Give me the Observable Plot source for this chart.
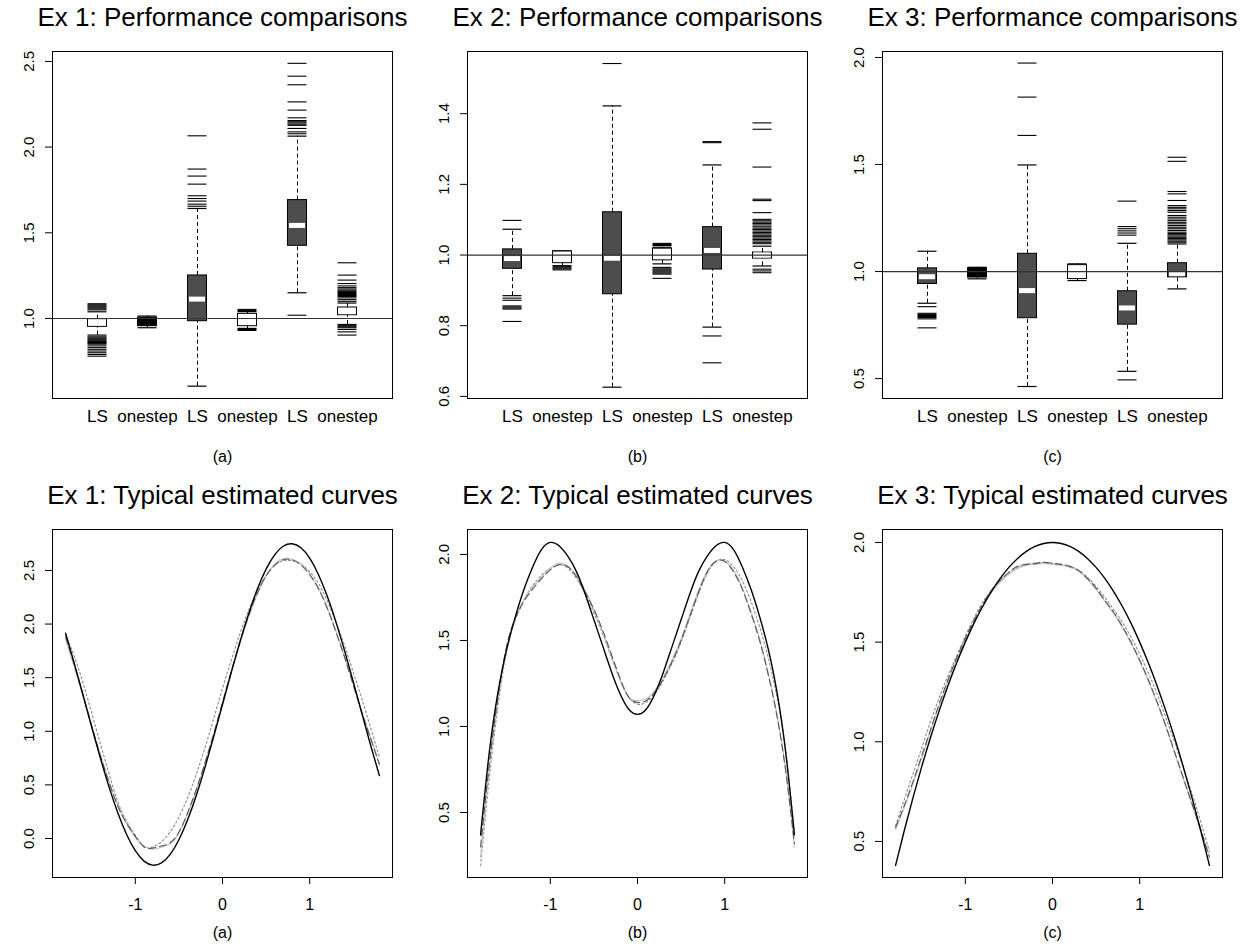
<!DOCTYPE html>
<html><head><meta charset="utf-8">
<script src="https://cdn.jsdelivr.net/npm/d3@7"></script>
<script src="https://cdn.jsdelivr.net/npm/@observablehq/plot@0.6"></script>
<style>
body{margin:0;background:#fff;}
#root{position:relative;width:1248px;height:950px;overflow:hidden;background:#fff;}
#root > div{position:absolute;}
</style></head><body><div id="root"></div>
<script>
// ---------- data ----------
const methodLabels = ["LS", "onestep", "LS", "onestep", "LS", "onestep"];
const panelTags = ["(a)", "(b)", "(c)"];
const boxTitles = ["Ex 1: Performance comparisons", "Ex 2: Performance comparisons", "Ex 3: Performance comparisons"];
const curveTitles = ["Ex 1: Typical estimated curves", "Ex 2: Typical estimated curves", "Ex 3: Typical estimated curves"];

// box stats: [lower whisker, Q1, median, Q3, upper whisker]
const ex1Stats = [
  [0.903, 0.951, 0.975, 0.996, 1.039],
  [0.946, 0.955, 0.980, 1.005, 1.014],
  [0.605, 0.984, 1.113, 1.251, 1.642],
  [0.942, 0.955, 0.990, 1.027, 1.040],
  [1.150, 1.424, 1.543, 1.691, 2.064],
  [0.965, 1.019, 1.040, 1.064, 1.090]
];
const ex1Outliers = [
  [1.05, 1.056, 1.062, 1.068, 1.074, 1.08, 1.086, 0.893, 0.887, 0.881, 0.876, 0.87, 0.865, 0.86, 0.855, 0.85, 0.84, 0.83, 0.82, 0.81, 0.80, 0.79, 0.78],
  [],
  [2.066, 1.872, 1.831, 1.784, 1.716, 1.70, 1.685, 1.667, 1.655],
  [1.053, 1.047, 0.936, 0.93],
  [2.489, 2.414, 2.364, 2.264, 2.216, 2.171, 2.155, 2.148, 2.141, 2.134, 2.127, 2.109, 2.089, 2.078, 1.019],
  [1.325, 1.253, 1.224, 1.204, 1.19, 1.18, 1.172, 1.165, 1.158, 1.152, 1.146, 1.14, 1.134, 1.128, 1.12, 1.11, 1.10, 0.958, 0.952, 0.946, 0.936, 0.922, 0.903]
];
const ex2Stats = [
  [0.885, 0.961, 0.990, 1.016, 1.073],
  [0.970, 0.977, 0.990, 1.010, 1.012],
  [0.626, 0.889, 0.991, 1.121, 1.422],
  [0.975, 0.985, 1.000, 1.018, 1.022],
  [0.796, 0.959, 1.013, 1.079, 1.255],
  [0.969, 0.990, 1.000, 1.007, 1.025]
];
const ex2Outliers = [
  [1.098, 0.878, 0.872, 0.856, 0.853, 0.85, 0.847, 0.812],
  [0.967, 0.964, 0.961, 0.958],
  [1.542],
  [1.033, 1.03, 1.027, 0.965, 0.961, 0.958, 0.955, 0.952, 0.949, 0.946, 0.934],
  [1.321, 1.318, 0.771, 0.695],
  [1.374, 1.356, 1.249, 1.158, 1.154, 1.12, 1.101, 1.097, 1.093, 1.089, 1.085, 1.08, 1.076, 1.072, 1.068, 1.064, 1.06, 1.056, 1.052, 1.048, 1.044, 1.04, 1.036, 1.032, 0.96, 0.955, 0.95]
];
const ex3Stats = [
  [0.852, 0.942, 0.976, 1.015, 1.095],
  [0.966, 0.972, 0.990, 1.015, 1.020],
  [0.463, 0.782, 0.911, 1.083, 1.498],
  [0.958, 0.965, 0.995, 1.030, 1.036],
  [0.534, 0.752, 0.830, 0.908, 1.132],
  [0.919, 0.973, 0.990, 1.039, 1.129]
];
const ex3Outliers = [
  [0.836, 0.805, 0.80, 0.795, 0.79, 0.785, 0.779, 0.737],
  [],
  [1.974, 1.815, 1.636],
  [],
  [1.329, 1.21, 1.20, 1.19, 1.18, 1.17, 0.494],
  [1.534, 1.515, 1.374, 1.363, 1.332, 1.308, 1.30, 1.293, 1.285, 1.277, 1.262, 1.254, 1.246, 1.238, 1.23, 1.223, 1.215, 1.207, 1.20, 1.192, 1.184, 1.178, 1.172, 1.166, 1.16, 1.154, 1.148, 1.142, 1.137]
];
const ex1YTicks = [1.0, 1.5, 2.0, 2.5];
const ex2YTicks = [0.6, 0.8, 1.0, 1.2, 1.4];
const ex3YTicks = [0.5, 1.0, 1.5, 2.0];

// curves
const curveX = [-1.8, -1.7, -1.6, -1.5, -1.4, -1.3, -1.2, -1.1, -1.0, -0.9, -0.8, -0.7, -0.6, -0.5, -0.4, -0.3, -0.2, -0.1, 0,
  0.1, 0.2, 0.3, 0.4, 0.5, 0.6, 0.7, 0.8, 0.9, 1.0, 1.1, 1.2, 1.3, 1.4, 1.5, 1.6, 1.7, 1.8];
const curveXTicks = [-1, 0, 1];

const ex1True = [1.914, 1.633, 1.338, 1.038, 0.748, 0.477, 0.237, 0.037, -0.114, -0.211, -0.249, -0.228, -0.148, -0.012, 0.174, 0.403, 0.666, 0.952, 1.25,
  1.548, 1.834, 2.097, 2.326, 2.512, 2.648, 2.728, 2.749, 2.711, 2.614, 2.463, 2.263, 2.023, 1.752, 1.462, 1.162, 0.867, 0.586];
const ex1EstA = [1.88, 1.62, 1.34, 1.05, 0.77, 0.52, 0.30, 0.14, 0.02, -0.08, -0.09, -0.07, -0.04, 0.06, 0.24, 0.46, 0.71, 0.98, 1.27,
  1.56, 1.83, 2.08, 2.29, 2.45, 2.55, 2.60, 2.60, 2.55, 2.46, 2.33, 2.15, 1.93, 1.69, 1.43, 1.17, 0.93, 0.69];
const ex1EstB = [1.86, 1.60, 1.33, 1.05, 0.78, 0.53, 0.31, 0.14, 0.01, -0.07, -0.10, -0.08, -0.05, 0.05, 0.23, 0.45, 0.70, 0.97, 1.26,
  1.55, 1.82, 2.07, 2.28, 2.45, 2.56, 2.61, 2.60, 2.56, 2.47, 2.34, 2.16, 1.94, 1.70, 1.44, 1.18, 0.94, 0.70];
const ex1EstC = [1.90, 1.70, 1.45, 1.17, 0.88, 0.60, 0.34, 0.16, 0.03, -0.07, -0.08, -0.03, 0.06, 0.20, 0.38, 0.60, 0.85, 1.12, 1.40,
  1.66, 1.91, 2.13, 2.31, 2.45, 2.55, 2.59, 2.59, 2.56, 2.49, 2.38, 2.22, 2.02, 1.80, 1.55, 1.30, 1.03, 0.76];

const ex2True = [0.37, 0.85, 1.20, 1.45, 1.64, 1.80, 1.93, 2.03, 2.07, 2.05, 1.99, 1.90, 1.77, 1.62, 1.47, 1.32, 1.19, 1.10, 1.07,
  1.10, 1.19, 1.32, 1.47, 1.62, 1.77, 1.90, 1.99, 2.05, 2.07, 2.03, 1.93, 1.80, 1.64, 1.45, 1.20, 0.85, 0.37];
const ex2EstA = [0.30, 0.78, 1.17, 1.47, 1.63, 1.73, 1.80, 1.86, 1.91, 1.94, 1.93, 1.87, 1.78, 1.68, 1.56, 1.42, 1.28, 1.17, 1.14,
  1.15, 1.20, 1.28, 1.38, 1.50, 1.64, 1.78, 1.90, 1.96, 1.96, 1.90, 1.80, 1.66, 1.50, 1.30, 1.06, 0.74, 0.32];
const ex2EstB = [0.24, 0.76, 1.16, 1.46, 1.63, 1.74, 1.81, 1.87, 1.92, 1.95, 1.93, 1.88, 1.79, 1.68, 1.55, 1.41, 1.27, 1.17, 1.15,
  1.16, 1.21, 1.29, 1.39, 1.51, 1.65, 1.79, 1.90, 1.96, 1.96, 1.91, 1.81, 1.67, 1.51, 1.31, 1.07, 0.75, 0.30];
const ex2EstC = [0.19, 0.70, 1.12, 1.44, 1.62, 1.74, 1.82, 1.88, 1.92, 1.94, 1.92, 1.86, 1.77, 1.66, 1.54, 1.40, 1.27, 1.17, 1.13,
  1.14, 1.19, 1.27, 1.37, 1.49, 1.63, 1.77, 1.89, 1.96, 1.97, 1.93, 1.85, 1.73, 1.58, 1.40, 1.17, 0.86, 0.38];

const ex3True = [0.38, 0.555, 0.72, 0.875, 1.02, 1.155, 1.28, 1.395, 1.5, 1.595, 1.68, 1.755, 1.82, 1.875, 1.92, 1.955, 1.98, 1.995, 2.0,
  1.995, 1.98, 1.955, 1.92, 1.875, 1.82, 1.755, 1.68, 1.595, 1.5, 1.395, 1.28, 1.155, 1.02, 0.875, 0.72, 0.555, 0.38];
const ex3EstA = [0.57, 0.68, 0.80, 0.93, 1.06, 1.19, 1.31, 1.42, 1.52, 1.61, 1.69, 1.76, 1.81, 1.85, 1.88, 1.89, 1.895, 1.90, 1.895,
  1.89, 1.88, 1.86, 1.82, 1.77, 1.71, 1.65, 1.58, 1.50, 1.41, 1.31, 1.20, 1.08, 0.95, 0.82, 0.69, 0.56, 0.42];
const ex3EstB = [0.56, 0.67, 0.79, 0.92, 1.05, 1.18, 1.30, 1.41, 1.51, 1.60, 1.68, 1.75, 1.80, 1.84, 1.87, 1.885, 1.89, 1.895, 1.89,
  1.885, 1.875, 1.855, 1.815, 1.765, 1.705, 1.645, 1.575, 1.495, 1.405, 1.305, 1.195, 1.075, 0.945, 0.815, 0.685, 0.555, 0.43];
const ex3EstC = [0.58, 0.71, 0.84, 0.97, 1.10, 1.22, 1.33, 1.43, 1.53, 1.62, 1.70, 1.76, 1.81, 1.85, 1.875, 1.89, 1.895, 1.90, 1.895,
  1.89, 1.88, 1.86, 1.825, 1.78, 1.725, 1.665, 1.60, 1.525, 1.44, 1.345, 1.24, 1.12, 1.00, 0.87, 0.74, 0.60, 0.45];
const ex1CurveYTicks = [0.0, 0.5, 1.0, 1.5, 2.0, 2.5];
const ex2CurveYTicks = [0.5, 1.0, 1.5, 2.0];
const ex3CurveYTicks = [0.5, 1.0, 1.5, 2.0];

// ---------- style ----------
const FONT = '"Liberation Sans", Arial, Helvetica, sans-serif';
const BOX_HALF = 0.19;
const shadeFill = {dark: "#4d4d4d", white: "#ffffff", black: "#000000"};
const boxShades = [
  ["white", "black", "dark", "white", "dark", "white"],
  ["dark", "white", "dark", "white", "dark", "white"],
  ["dark", "black", "dark", "white", "dark", "dark"]
];

const root = document.getElementById("root");
function place(el, left, top) {
  const d = document.createElement("div");
  d.style.left = left + "px";
  d.style.top = top + "px";
  d.appendChild(el);
  root.appendChild(d);
}

function yLabels(ticks) {
  return Plot.text(ticks, {
    y: d => d, text: d => d.toFixed(1), frameAnchor: "left", rotate: -90,
    textAnchor: "middle", lineAnchor: "bottom", dx: -19, fontSize: 15, fill: "black"
  });
}

function boxPanel(stats, outliers, shades, yDomain, yTicks, title, tag) {
  const boxes = stats.map((s, k) => ({pos: k + 1, lo: s[0], q1: s[1], med: s[2], q3: s[3], hi: s[4], shade: shades[k]}));
  const outs = outliers.flatMap((vals, k) => vals.map(v => ({pos: k + 1, v})));
  const L = d => d.pos - BOX_HALF, R = d => d.pos + BOX_HALF;
  return Plot.plot({
    width: 415, height: 478, marginLeft: 52, marginRight: 23, marginTop: 51, marginBottom: 80,
    style: {fontFamily: FONT, fontSize: "17px", background: "white", overflow: "visible", color: "black"},
    color: {type: "identity"},
    x: {domain: [0.1, 6.9], ticks: [1, 2, 3, 4, 5, 6], tickSize: 0, tickPadding: 11, tickFormat: t => methodLabels[t - 1], label: null},
    y: {domain: yDomain, ticks: yTicks, tickSize: 7, tickFormat: () => "", label: null},
    marks: [
      Plot.ruleX(boxes, {x: "pos", y1: "q3", y2: "hi", stroke: "black", strokeWidth: 1, strokeDasharray: "4,3"}),
      Plot.ruleX(boxes, {x: "pos", y1: "lo", y2: "q1", stroke: "black", strokeWidth: 1, strokeDasharray: "4,3"}),
      Plot.ruleY(boxes, {y: "hi", x1: L, x2: R, stroke: "black", strokeWidth: 1.2}),
      Plot.ruleY(boxes, {y: "lo", x1: L, x2: R, stroke: "black", strokeWidth: 1.2}),
      Plot.ruleY(outs, {y: "v", x1: L, x2: R, stroke: "black", strokeWidth: 1.1}),
      Plot.rect(boxes, {x1: L, x2: R, y1: "q1", y2: "q3", fill: d => shadeFill[d.shade], stroke: "black", strokeWidth: 1}),
      Plot.ruleY(boxes, {y: "med", x1: L, x2: R, stroke: d => d.shade === "black" ? "#000000" : "#ffffff", strokeWidth: 5, insetLeft: 1.5, insetRight: 1.5}),
      Plot.ruleY([1], {stroke: "#333333", strokeWidth: 1.2}),
      Plot.frame({stroke: "black", strokeWidth: 1}),
      yLabels(yTicks),
      Plot.text([title], {text: d => d, frameAnchor: "top", lineAnchor: "bottom", dy: -26, fontSize: 26, fill: "black"}),
      Plot.text([tag], {text: d => d, frameAnchor: "bottom", lineAnchor: "bottom", dy: 63, fontSize: 16, fill: "black"})
    ]
  });
}

function curvePanel(truth, estA, estB, estC, yDomain, yTicks, title, tag) {
  const rows = arr => curveX.map((x, k) => ({x, y: arr[k]}));
  return Plot.plot({
    width: 415, height: 472, marginLeft: 52, marginRight: 23, marginTop: 51, marginBottom: 73,
    style: {fontFamily: FONT, fontSize: "16px", background: "white", overflow: "visible", color: "black"},
    x: {domain: [-1.95, 1.95], ticks: curveXTicks, tickSize: 7, tickPadding: 14, tickFormat: d => String(d), label: null},
    y: {domain: yDomain, ticks: yTicks, tickSize: 7, tickFormat: () => "", label: null},
    marks: [
      Plot.line(rows(estC), {x: "x", y: "y", stroke: "#8c8c8c", strokeWidth: 1.1, strokeDasharray: "2,2.5", curve: "natural"}),
      Plot.line(rows(estB), {x: "x", y: "y", stroke: "#c6c6c6", strokeWidth: 1.3, curve: "natural"}),
      Plot.line(rows(estA), {x: "x", y: "y", stroke: "#555555", strokeWidth: 1.1, strokeDasharray: "7,4", curve: "natural"}),
      Plot.line(rows(truth), {x: "x", y: "y", stroke: "black", strokeWidth: 1.4, curve: "natural"}),
      Plot.frame({stroke: "black", strokeWidth: 1}),
      yLabels(yTicks),
      Plot.text([title], {text: d => d, frameAnchor: "top", lineAnchor: "bottom", dy: -26, fontSize: 26, fill: "black"}),
      Plot.text([tag], {text: d => d, frameAnchor: "bottom", lineAnchor: "bottom", dy: 60, fontSize: 16, fill: "black"})
    ]
  });
}

place(boxPanel(ex1Stats, ex1Outliers, boxShades[0], [0.533, 2.558], ex1YTicks, boxTitles[0], panelTags[0]), 0, 0);
place(boxPanel(ex2Stats, ex2Outliers, boxShades[1], [0.594, 1.576], ex2YTicks, boxTitles[1], panelTags[1]), 415, 0);
place(boxPanel(ex3Stats, ex3Outliers, boxShades[2], [0.407, 2.028], ex3YTicks, boxTitles[2], panelTags[2]), 830, 0);
place(curvePanel(ex1True, ex1EstA, ex1EstB, ex1EstC, [-0.364, 2.882], ex1CurveYTicks, curveTitles[0], panelTags[0]), 0, 478);
place(curvePanel(ex2True, ex2EstA, ex2EstB, ex2EstC, [0.122, 2.145], ex2CurveYTicks, curveTitles[1], panelTags[1]), 415, 478);
place(curvePanel(ex3True, ex3EstA, ex3EstB, ex3EstC, [0.319, 2.065], ex3CurveYTicks, curveTitles[2], panelTags[2]), 830, 478);
</script></body></html>
